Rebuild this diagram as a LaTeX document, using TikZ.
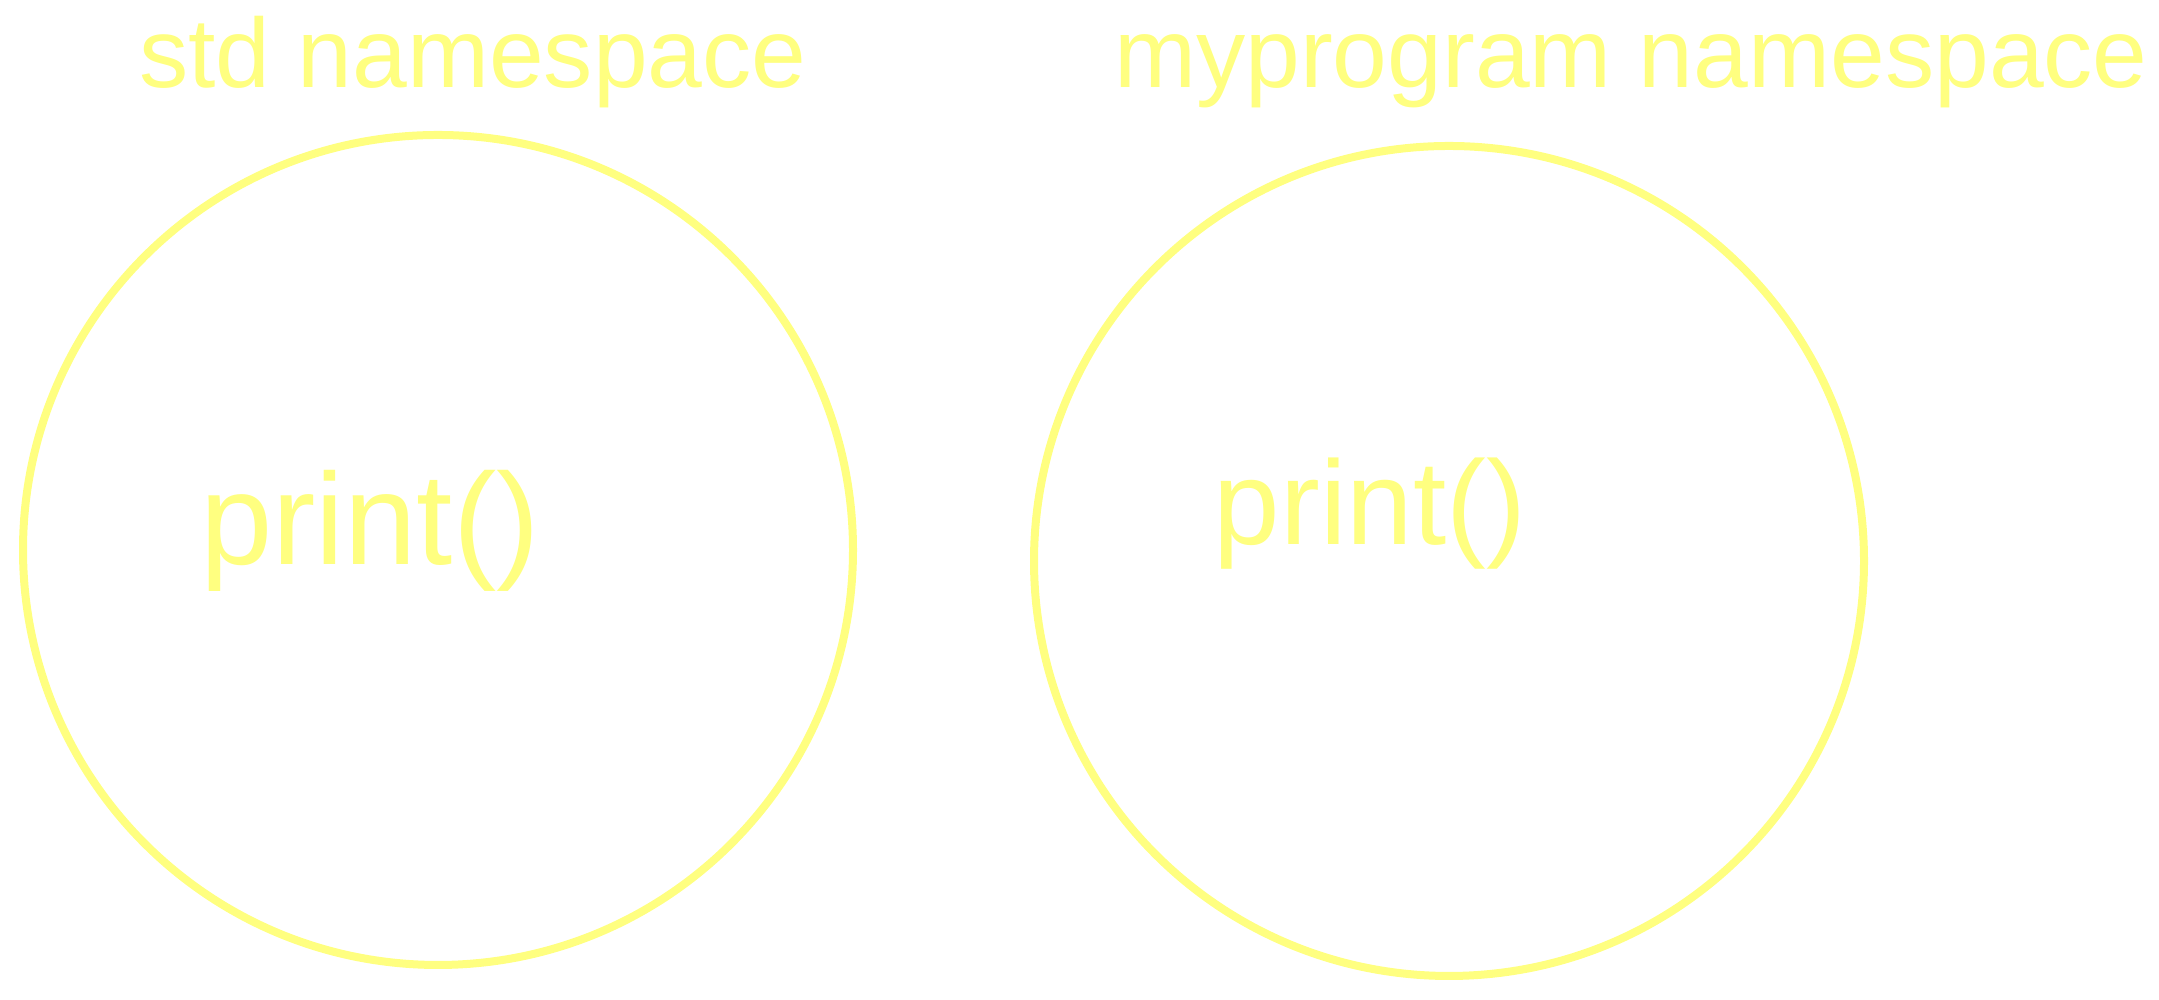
\documentclass[tikz,border=0pt]{standalone}
\usepackage{fontspec}
\setmainfont{Liberation Sans}
\definecolor{marker}{RGB}{255,255,128}
\tikzset{
  ns/.style={circle, draw=marker, line width=0.08cm, minimum size=8.3cm,
    inner sep=0pt, outer sep=0pt},
  title/.style={text=marker, anchor=base, inner sep=0pt,
    font=\fontsize{28}{34}\selectfont},
  fn/.style={text=marker, anchor=base, inner sep=0pt}
}

\begin{document}
\begin{tikzpicture}
          \useasboundingbox (0,0) rectangle (21.59,10);
          \node[ns] (stdns)  at ( 4.38, 4.50) {};
          \node[ns] (myns)   at (14.49, 4.39) {};
          \node[title] (stdname) at ( 4.73, 9.12) {std namespace};
          \node[title] (myname)  at (16.31, 9.12) {myprogram namespace};
          %% the two functions with the same name
          \node[fn, font=\fontsize{37}{44}\selectfont] (stdprint) at ( 3.70, 4.35) {print()};
          \node[fn, font=\fontsize{34}{41}\selectfont] (myprint)  at (13.70, 4.55) {print()};
        \end{tikzpicture}
\end{document}
